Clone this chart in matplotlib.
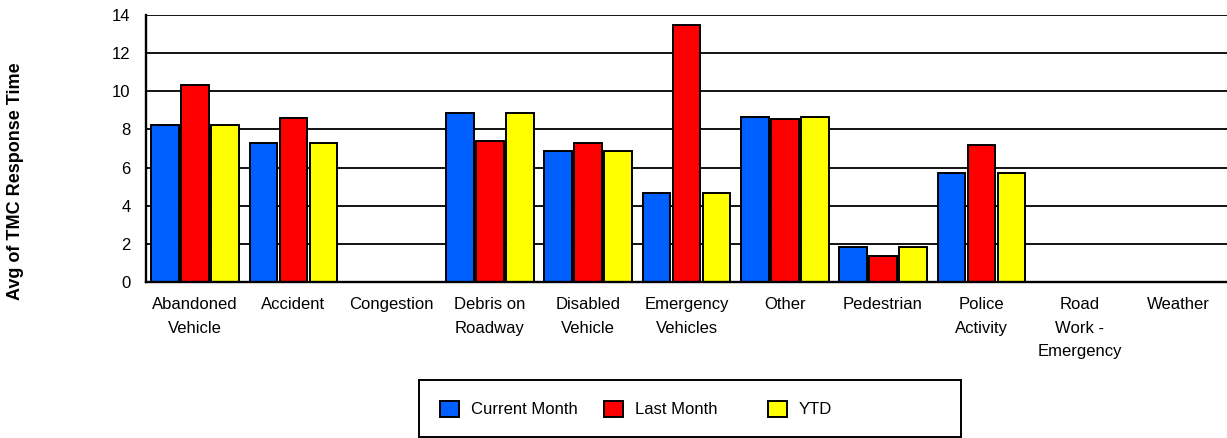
import matplotlib
matplotlib.use("Agg")
import matplotlib.pyplot as plt
from matplotlib.patches import Rectangle
import numpy as np

categories = ["Abandoned\nVehicle", "Accident", "Congestion", "Debris on\nRoadway",
              "Disabled\nVehicle", "Emergency\nVehicles", "Other", "Pedestrian",
              "Police\nActivity", "Road\nWork -\nEmergency", "Weather"]
current_month = [8.23, 7.30, 0, 8.88, 6.87, 4.68, 8.65, 1.85, 5.73, 0, 0]
last_month = [10.33, 8.58, 0, 7.41, 7.30, 13.48, 8.56, 1.35, 7.20, 0, 0]
ytd = [8.23, 7.30, 0, 8.88, 6.87, 4.68, 8.65, 1.85, 5.73, 0, 0]
series_names = ["Current Month", "Last Month", "YTD"]
colors = ["#0060FF", "#FF0000", "#FFFF00"]
y_ticks = [0, 2, 4, 6, 8, 10, 12, 14]

plt.rcParams['font.family'] = ['Liberation Sans', 'DejaVu Sans']

W, H = 1227, 438
fig = plt.figure(figsize=(W / 100, H / 100), dpi=100)
ax = fig.add_axes([146 / W, 1 - 282 / H, (W - 146) / W, (282 - 15) / H])

x = np.arange(len(categories))
offs = [-0.305, 0.0, 0.305]
width = 0.28
bars = []
for i, (vals, name, c) in enumerate(zip([current_month, last_month, ytd], series_names, colors)):
    b = ax.bar(x + offs[i], vals, width, color=c, edgecolor="black", linewidth=1.4,
               label=name, zorder=3)
    bars.append(b)

ax.set_xlim(-0.5, len(categories) - 0.5)
ax.set_ylim(0, 14)
ax.set_yticks(y_ticks)
ax.yaxis.grid(True, color="black", linewidth=1.3, zorder=0)
ax.set_axisbelow(True)
for s in ["top", "right"]:
    ax.spines[s].set_visible(False)
for s in ["left", "bottom"]:
    ax.spines[s].set_linewidth(1.7)
    ax.spines[s].set_zorder(4)

ax.set_xticks(x)
ax.set_xticklabels(categories, fontsize=12, linespacing=1.7)
ax.tick_params(axis="x", length=0, pad=11)
ax.tick_params(axis="y", length=0, pad=11, labelsize=12)

fig.text(16 / W, 1 - 181 / H, "Avg of TMC Response Time", rotation=90,
         fontsize=13, fontweight="bold", ha="center", va="center")

# legend frame
fig.patches.append(Rectangle((419 / W, 1 - 437 / H), (961 - 419) / W, (437 - 380) / H,
                             transform=fig.transFigure, facecolor="white",
                             edgecolor="black", linewidth=1.4, zorder=1))
entry_x = [440, 604, 768]
for b, name, ex in zip(bars, series_names, entry_x):
    fig.legend(handles=[b], labels=[name], loc="center left",
               bbox_to_anchor=(ex / W, 1 - 409 / H), frameon=False, fontsize=12,
               handlelength=1.14, handleheight=1.14, handletextpad=0.72,
               borderpad=0, borderaxespad=0)

fig.savefig("out.png", dpi=100)
